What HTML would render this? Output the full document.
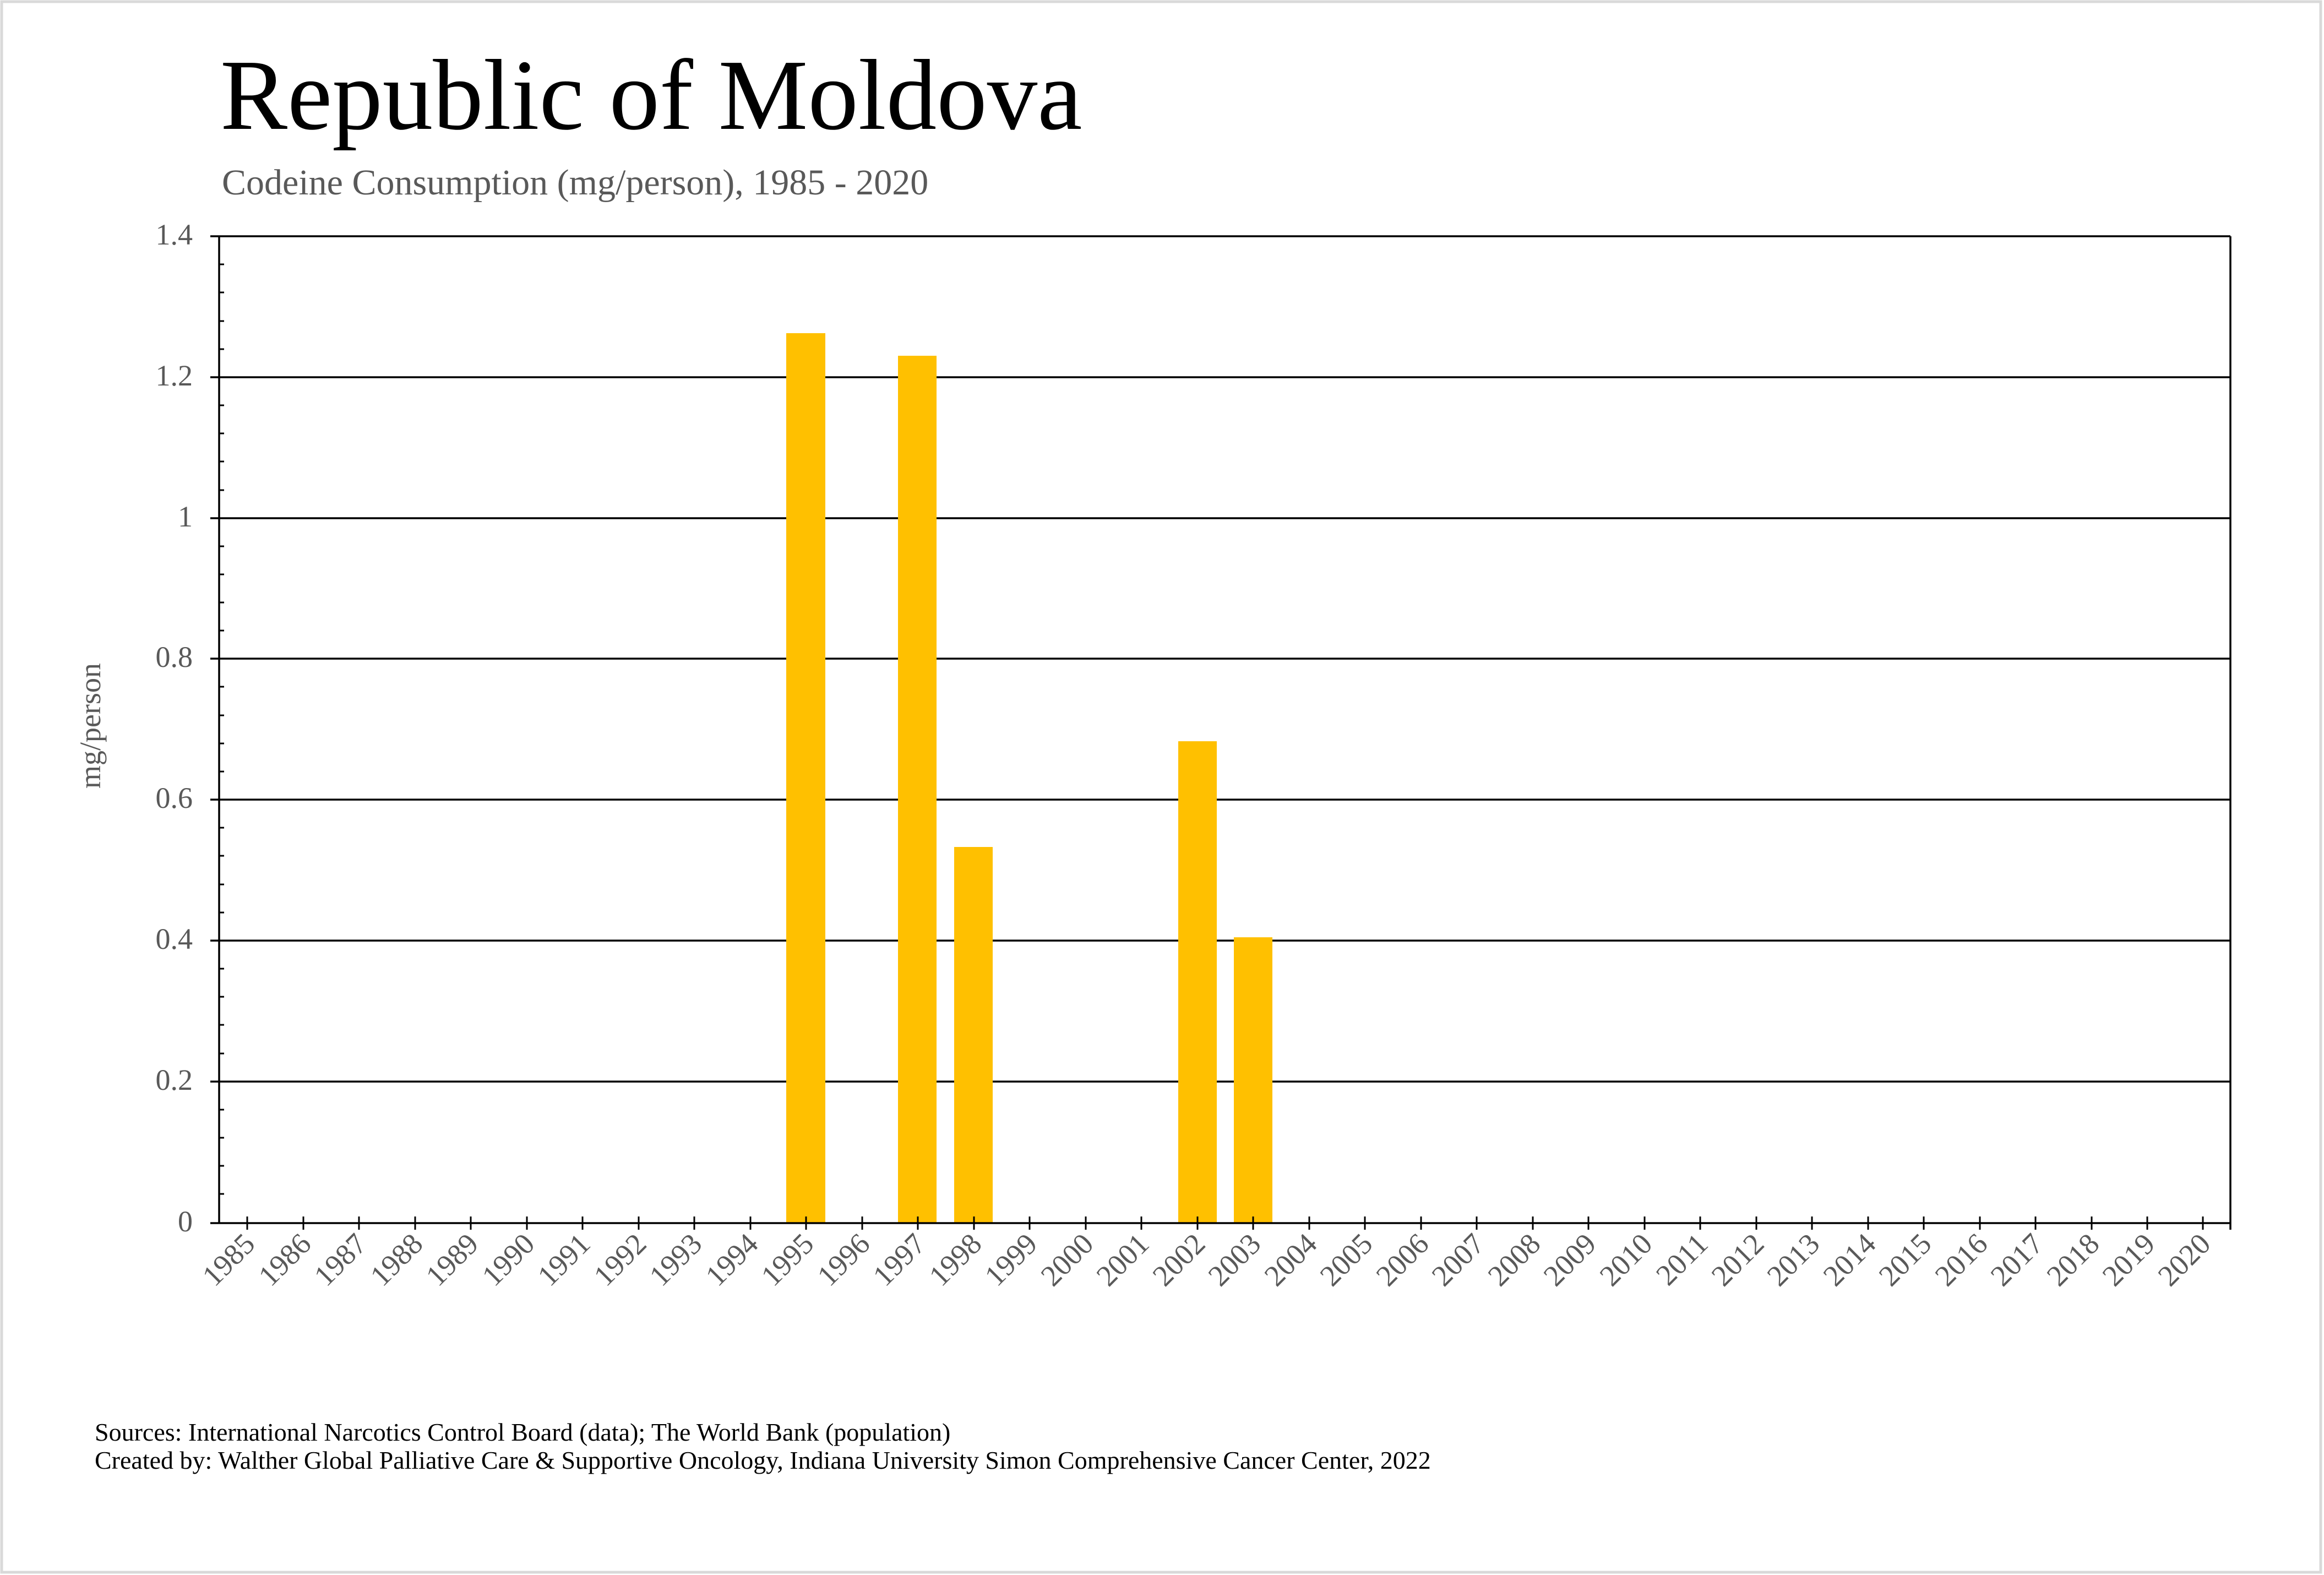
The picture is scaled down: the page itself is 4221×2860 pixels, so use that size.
<!DOCTYPE html>
<html><head><meta charset="utf-8"><style>
html,body{margin:0;padding:0;background:#fff;}
svg{display:block;}
</style></head><body>
<svg width="4221" height="2860" viewBox="0 0 4221 2860" xmlns="http://www.w3.org/2000/svg" font-family="'Liberation Serif', serif">
<rect x="3" y="3" width="4212" height="2852" fill="#fff" stroke="#d9d9d9" stroke-width="5"/>
<text x="400" y="234" font-size="183" fill="#000">Republic of Moldova</text>
<text x="403" y="353" font-size="66" fill="#595959">Codeine Consumption (mg/person), 1985 - 2020</text>
<g stroke="#000" stroke-width="3.5">
<line x1="382" y1="429" x2="4051" y2="429"/>
<line x1="382" y1="685" x2="4051" y2="685"/>
<line x1="382" y1="941" x2="4051" y2="941"/>
<line x1="382" y1="1196" x2="4051" y2="1196"/>
<line x1="382" y1="1452" x2="4051" y2="1452"/>
<line x1="382" y1="1708" x2="4051" y2="1708"/>
<line x1="382" y1="1964" x2="4051" y2="1964"/>
</g>
<g fill="#ffc000">
<rect x="1428" y="605" width="71" height="1615"/>
<rect x="1631" y="646" width="70" height="1574"/>
<rect x="1733" y="1538" width="70" height="682"/>
<rect x="2140" y="1346" width="70" height="874"/>
<rect x="2241" y="1702" width="70" height="518"/>
</g>
<g stroke="#000" stroke-width="3.5">
<line x1="398" y1="429" x2="398" y2="2221"/>
<line x1="4051" y1="429" x2="4051" y2="2233"/>
<line x1="382" y1="2221" x2="4051" y2="2221"/>
</g>
<g stroke="#000" stroke-width="3">
<path d="M398 480h9M398 531h9M398 583h9M398 634h9M398 736h9M398 787h9M398 838h9M398 890h9M398 992h9M398 1043h9M398 1094h9M398 1145h9M398 1247h9M398 1299h9M398 1350h9M398 1401h9M398 1503h9M398 1554h9M398 1606h9M398 1657h9M398 1759h9M398 1810h9M398 1861h9M398 1913h9M398 2015h9M398 2066h9M398 2117h9M398 2168h9"/>
</g>
<g fill="#595959" font-size="54" text-anchor="end">
<text x="350" y="444">1.4</text>
<text x="350" y="700">1.2</text>
<text x="350" y="956">1</text>
<text x="350" y="1211">0.8</text>
<text x="350" y="1467">0.6</text>
<text x="350" y="1723">0.4</text>
<text x="350" y="1979">0.2</text>
<text x="350" y="2236">0</text>
</g>
<text transform="translate(182,1318) rotate(-90)" font-size="54" fill="#595959" text-anchor="middle">mg/person</text>
<g stroke="#000" stroke-width="3">
<path d="M449 2209v24M551 2209v24M652 2209v24M754 2209v24M855 2209v24M957 2209v24M1058 2209v24M1160 2209v24M1261 2209v24M1363 2209v24M1464 2209v24M1566 2209v24M1667 2209v24M1769 2209v24M1870 2209v24M1972 2209v24M2073 2209v24M2175 2209v24M2276 2209v24M2378 2209v24M2479 2209v24M2581 2209v24M2682 2209v24M2784 2209v24M2885 2209v24M2987 2209v24M3088 2209v24M3190 2209v24M3291 2209v24M3393 2209v24M3494 2209v24M3596 2209v24M3697 2209v24M3799 2209v24M3900 2209v24M4001 2209v24"/>
</g>
<g fill="#595959" font-size="54" text-anchor="end">
<text transform="translate(466,2262) rotate(-45)">1985</text>
<text transform="translate(568,2262) rotate(-45)">1986</text>
<text transform="translate(669,2262) rotate(-45)">1987</text>
<text transform="translate(771,2262) rotate(-45)">1988</text>
<text transform="translate(872,2262) rotate(-45)">1989</text>
<text transform="translate(974,2262) rotate(-45)">1990</text>
<text transform="translate(1075,2262) rotate(-45)">1991</text>
<text transform="translate(1177,2262) rotate(-45)">1992</text>
<text transform="translate(1278,2262) rotate(-45)">1993</text>
<text transform="translate(1380,2262) rotate(-45)">1994</text>
<text transform="translate(1481,2262) rotate(-45)">1995</text>
<text transform="translate(1583,2262) rotate(-45)">1996</text>
<text transform="translate(1684,2262) rotate(-45)">1997</text>
<text transform="translate(1786,2262) rotate(-45)">1998</text>
<text transform="translate(1887,2262) rotate(-45)">1999</text>
<text transform="translate(1989,2262) rotate(-45)">2000</text>
<text transform="translate(2090,2262) rotate(-45)">2001</text>
<text transform="translate(2192,2262) rotate(-45)">2002</text>
<text transform="translate(2293,2262) rotate(-45)">2003</text>
<text transform="translate(2395,2262) rotate(-45)">2004</text>
<text transform="translate(2496,2262) rotate(-45)">2005</text>
<text transform="translate(2598,2262) rotate(-45)">2006</text>
<text transform="translate(2699,2262) rotate(-45)">2007</text>
<text transform="translate(2801,2262) rotate(-45)">2008</text>
<text transform="translate(2902,2262) rotate(-45)">2009</text>
<text transform="translate(3004,2262) rotate(-45)">2010</text>
<text transform="translate(3105,2262) rotate(-45)">2011</text>
<text transform="translate(3207,2262) rotate(-45)">2012</text>
<text transform="translate(3308,2262) rotate(-45)">2013</text>
<text transform="translate(3410,2262) rotate(-45)">2014</text>
<text transform="translate(3511,2262) rotate(-45)">2015</text>
<text transform="translate(3613,2262) rotate(-45)">2016</text>
<text transform="translate(3714,2262) rotate(-45)">2017</text>
<text transform="translate(3816,2262) rotate(-45)">2018</text>
<text transform="translate(3917,2262) rotate(-45)">2019</text>
<text transform="translate(4018,2262) rotate(-45)">2020</text>
</g>
<g fill="#000" font-size="46">
<text x="172" y="2616">Sources: International Narcotics Control Board (data); The World Bank (population)</text>
<text x="172" y="2667">Created by: Walther Global Palliative Care &amp; Supportive Oncology, Indiana University Simon Comprehensive Cancer Center, 2022</text>
</g>
</svg>
</body></html>
